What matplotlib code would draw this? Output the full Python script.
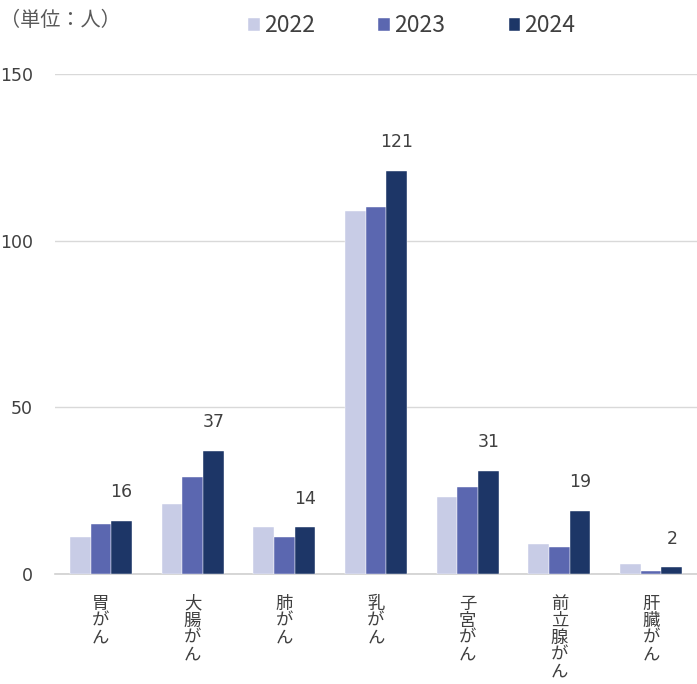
import matplotlib
matplotlib.use("Agg")
import matplotlib.pyplot as plt
import numpy as np

plt.rcParams["font.family"] = ["Noto Sans CJK JP", "DejaVu Sans"]

# --- data ---------------------------------------------------------------
categories = ["胃がん", "大腸がん", "肺がん", "乳がん", "子宮がん", "前立腺がん", "肝臓がん"]
years = ["2022", "2023", "2024"]
v2022 = [11, 21, 14, 109, 23, 9, 3]
v2023 = [15, 29, 11, 110, 26, 8, 1]
v2024 = [16, 37, 14, 121, 31, 19, 2]

COLORS = ["#c8cce6", "#5b67b0", "#1d3667"]
TEXT = "#404040"
NUM_FONT = ["DejaVu Sans"]

fig = plt.figure(figsize=(6.97, 6.84), dpi=100)
ax = fig.add_axes([55 / 697, 110 / 684, 642 / 697, 500 / 684])

x = np.arange(len(categories))
w = 0.225
for k, (vals, col, lab) in enumerate(zip([v2022, v2023, v2024], COLORS, years)):
    ax.bar(x + (k - 1) * w, vals, width=w, color=col, label=lab,
           edgecolor="white", linewidth=0.3, zorder=3)

# data labels for the latest year only
for xi, v in zip(x, v2024):
    ax.annotate(f"{v}", (xi + w, v), xytext=(0, 14), textcoords="offset points",
                ha="center", va="bottom", fontsize=12.5, color=TEXT,
                family=NUM_FONT)

ax.set_xlim(-0.5, len(categories) - 0.5)
ax.set_ylim(0, 150)
ax.set_yticks([0, 50, 100, 150])
ax.set_yticklabels(["0", "50", "100", "150"], family=NUM_FONT)
ax.yaxis.grid(True, color="#d9d9d9", linewidth=1, zorder=0)
ax.tick_params(axis="y", length=0, labelsize=12.5, labelcolor=TEXT, pad=16)
for s in ("top", "right", "left"):
    ax.spines[s].set_visible(False)
ax.spines["bottom"].set_color("#d0d0d0")
ax.spines["bottom"].set_linewidth(1.2)

# vertical (stacked) category labels
ax.set_xticks(x)
ax.set_xticklabels(["\n".join(c) for c in categories], fontsize=12.5,
                   color=TEXT, linespacing=0.93, va="top")
ax.tick_params(axis="x", length=0, pad=15)

fig.text(0, 1 - 20 / 684, "（単位：人）", fontsize=14.5, color="#595959",
         ha="left", va="center")
fig.legend(loc="center", bbox_to_anchor=(412 / 697, 1 - 26 / 684), ncol=3,
           frameon=False, fontsize=16.5, handlelength=0.5, handleheight=0.5,
           handletextpad=0.2, columnspacing=2.75, labelcolor=TEXT)

fig.savefig("out.png", dpi=100)
